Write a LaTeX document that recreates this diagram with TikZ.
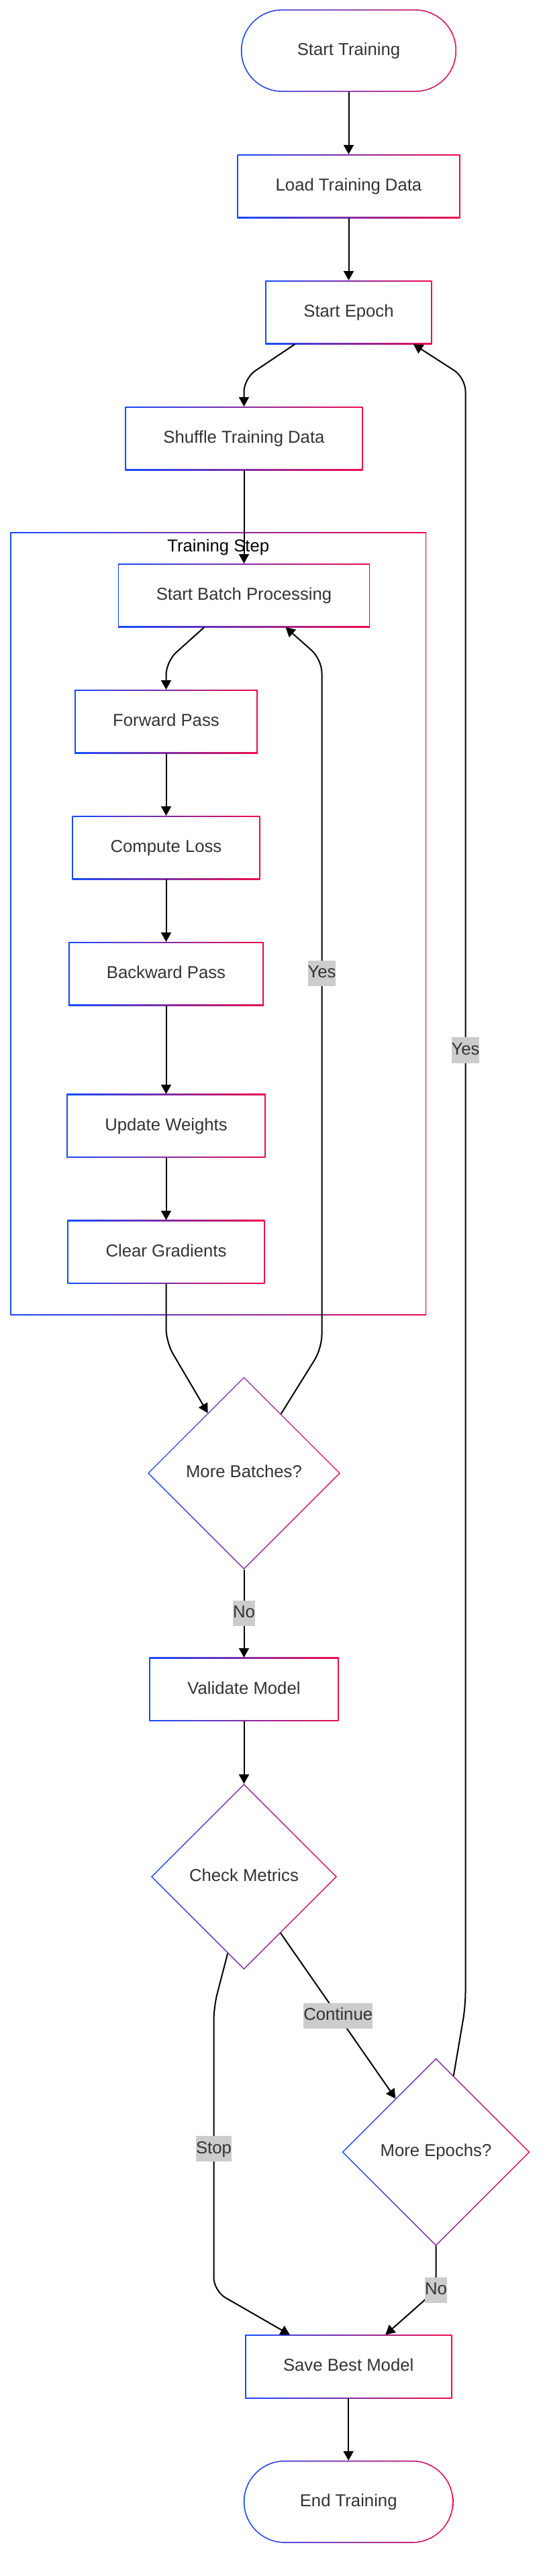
\documentclass[tikz,border=0pt]{standalone}
\usepackage{fontspec}
\setmainfont{Liberation Sans}[Ligatures=CommonOff]
\usetikzlibrary{arrows.meta,shapes.geometric,positioning,fit,backgrounds}
\definecolor{gblue}{RGB}{20,75,255}
\definecolor{gred}{RGB}{240,10,75}
\definecolor{ink}{RGB}{51,51,51}
\definecolor{tagfill}{RGB}{204,204,204}

\begin{document}
\begin{tikzpicture}[
    x=1pt, y=1pt, node distance=46.5pt,
    basenode/.style={font=\fontsize{12.85pt}{15pt}\selectfont, text=ink, text height=9.4pt, text depth=2.7pt, outer sep=0pt},
    procbox/.style={basenode, rectangle, inner xsep=28.5pt, inner ysep=0pt, minimum height=47.5pt,
        path picture={
            \shade[sharp corners, left color=gblue, right color=gred] (path picture bounding box.south west) rectangle (path picture bounding box.north east);
            \fill[sharp corners, white] ([shift={(0.85pt,0.85pt)}]path picture bounding box.south west) rectangle ([shift={(-0.85pt,-0.85pt)}]path picture bounding box.north east);
        }},
    termbox/.style={basenode, rectangle, rounded corners=30.75pt, inner xsep=42pt, inner ysep=0pt, minimum height=61.5pt,
        path picture={
            \shade[sharp corners, left color=gblue, right color=gred] (path picture bounding box.south west) rectangle (path picture bounding box.north east);
            \fill[white, rounded corners=29.9pt] ([shift={(0.85pt,0.85pt)}]path picture bounding box.south west) rectangle ([shift={(-0.85pt,-0.85pt)}]path picture bounding box.north east);
        }},
    decision/.style={basenode, diamond, aspect=1, inner sep=0pt, minimum size=143.5pt,
        path picture={
            \shade[left color=gblue, right color=gred] (path picture bounding box.south west) rectangle (path picture bounding box.north east);
            \fill[white] ([yshift=-1.1pt]path picture bounding box.north) -- ([xshift=-1.1pt]path picture bounding box.east) -- ([yshift=1.1pt]path picture bounding box.south) -- ([xshift=1.1pt]path picture bounding box.west) -- cycle;
        }},
    stepframe/.style={rectangle, inner xsep=42pt, inner ysep=23.25pt, outer sep=0pt,
        path picture={
            \shade[left color=gblue, right color=gred] (path picture bounding box.south west) rectangle (path picture bounding box.north east);
            \fill[white] ([shift={(0.85pt,0.85pt)}]path picture bounding box.south west) rectangle ([shift={(-0.85pt,-0.85pt)}]path picture bounding box.north east);
        }},
    flow/.style={draw=black, line width=1pt, rounded corners=10pt, -{Triangle[length=7pt, width=7.5pt]}},
    edgetag/.style={basenode, sharp corners, fill=tagfill, inner xsep=0pt, inner ysep=3.5pt}
    ]

    \useasboundingbox (0,0) rectangle (406,-1920);

    %Nodes
    \node[termbox]  (start)     at (259.75,-37.75)                  {Start Training};
    \node[procbox]  (load)      [below=of start]                    {Load Training Data};
    \node[procbox]  (epoch)     [below=of load]                     {Start Epoch};
    \node[procbox]  (shuffle)   [below=of epoch, xshift=-78pt]      {Shuffle Training Data};
    \node[procbox]  (batch)     [below=69.5pt of shuffle]           {Start Batch Processing};
    \node[procbox]  (fwd)       [below=of batch, xshift=-58pt]      {Forward Pass};
    \node[procbox]  (loss)      [below=of fwd]                      {Compute Loss};
    \node[procbox]  (bwd)       [below=of loss]                     {Backward Pass};
    \node[procbox]  (upd)       [below=65.9pt of bwd]               {Update Weights};
    \node[procbox]  (clr)       [below=of upd]                      {Clear Gradients};
    \node[decision] (morebatch) [below=69.35pt of clr, xshift=58pt] {More Batches?};
    \node[procbox]  (validate)  [below=65.65pt of morebatch]        {Validate Model};
    \node[decision, minimum size=138.5pt] (check)  [below=46.65pt of validate]          {Check Metrics};
    \node[decision, minimum size=140pt]   (moreep) [below=66pt of check, xshift=143pt]  {More Epochs?};
    \node[procbox]  (save)      [below=66.15pt of moreep, xshift=-65.15pt] {Save Best Model};
    \node[termbox]  (finish)    [below=46.2pt of save]              {End Training};

    % Training step frame (behind the nodes)
    \begin{scope}[on background layer]
        \fill[white] (0,0) rectangle (406,-1920);
        \node[stepframe, fit=(batch)(upd)(clr)] (cluster) {};
    \end{scope}
    \node[basenode, text=black, anchor=base] (steptitle) at ([yshift=-14.35pt]cluster.north) {Training Step};

    %Lines
    \draw[flow] (start) -- (load);
    \draw[flow] (load) -- (epoch);
    \draw[flow] ([xshift=-40pt]epoch.south) -- ([yshift=21pt]shuffle.north) -- (shuffle.north);
    \draw[flow] (shuffle) -- (batch);
    \draw[flow] ([xshift=-29.6pt]batch.south) -- ([yshift=21pt]fwd.north) -- (fwd.north);
    \draw[flow] (fwd) -- (loss);
    \draw[flow] (loss) -- (bwd);
    \draw[flow] (bwd) -- (upd);
    \draw[flow] (upd) -- (clr);
    \draw[flow] (clr.south) -- ([yshift=-43.5pt]clr.south) -- (morebatch.121);
    \draw[flow] (morebatch.58) -- ([xshift=58pt, yshift=21.35pt]morebatch.north)
        -- node[edgetag, pos=0.544] {Yes} ([xshift=58pt, yshift=-24pt]batch.south) -- ([xshift=31pt]batch.south);
    \draw[flow] (morebatch) -- node[edgetag] {No} (validate);
    \draw[flow] (validate) -- (check);
    \draw[flow] (check.303) -- node[edgetag] {Continue} (moreep.127);
    \draw[flow] (check.258) -- ([xshift=-22.5pt, yshift=-27.75pt]check.south)
        -- node[edgetag] {Stop} ([xshift=-100.35pt, yshift=32.65pt]save.north) -- ([xshift=-43.65pt]save.north);
    \draw[flow] (moreep.77) -- ([xshift=22pt, yshift=39pt]moreep.north)
        -- node[edgetag, pos=0.587] {Yes} ([xshift=87pt, yshift=-25pt]epoch.south) -- ([xshift=48.15pt]epoch.south);
    \draw[flow] (moreep.south) -- ([yshift=-32.8pt]moreep.south) node[edgetag] {No} -- ([xshift=27.55pt]save.north);
    \draw[flow] (save) -- (finish);
\end{tikzpicture}
\end{document}
